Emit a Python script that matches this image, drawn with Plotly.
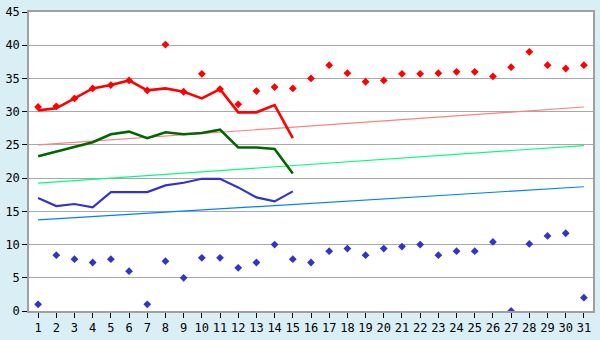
import plotly.graph_objects as go

days = list(range(1, 32))

red_points = [30.7, 30.8, 32.0, 33.5, 34.0, 34.7, 33.2, 40.1, 33.0, 35.7,
              33.4, 31.1, 33.1, 33.7, 33.5, 35.0, 37.0, 35.8, 34.5, 34.7,
              35.7, 35.7, 35.8, 36.0, 36.0, 35.3, 36.7, 39.0, 37.0, 36.5, 37.0]
blue_points = [1.0, 8.4, 7.8, 7.3, 7.8, 6.0, 1.0, 7.5, 5.0, 8.0,
               8.0, 6.5, 7.3, 10.0, 7.8, 7.3, 9.0, 9.4, 8.4, 9.4,
               9.7, 10.0, 8.4, 9.0, 9.0, 10.4, 0.0, 10.1, 11.3, 11.7, 2.0]

line_days = list(range(1, 16))
red_line = [30.2, 30.5, 32.0, 33.5, 34.0, 34.7, 33.2, 33.5, 33.0, 32.0,
            33.4, 29.9, 29.9, 31.0, 26.0]
green_line = [23.3, 24.0, 24.8, 25.4, 26.6, 27.0, 26.0, 26.9, 26.6, 26.8,
              27.3, 24.6, 24.6, 24.4, 20.7]
blue_line = [17.0, 15.8, 16.1, 15.6, 17.9, 17.9, 17.9, 18.9, 19.3, 19.9,
             19.9, 18.6, 17.1, 16.5, 18.0]

trend_days = [1, 31]
red_trend = [25.0, 30.7]
green_trend = [19.25, 24.9]
blue_trend = [13.7, 18.7]

fig = go.Figure()

fig.add_trace(go.Scatter(x=trend_days, y=red_trend, mode="lines",
                         line=dict(color="#FF8080", width=1.2)))
fig.add_trace(go.Scatter(x=trend_days, y=green_trend, mode="lines",
                         line=dict(color="#00FF80", width=1.2)))
fig.add_trace(go.Scatter(x=trend_days, y=blue_trend, mode="lines",
                         line=dict(color="#0080FF", width=1.2)))

fig.add_trace(go.Scatter(x=line_days, y=red_line, mode="lines",
                         line=dict(color="#FF0000", width=2.6)))
fig.add_trace(go.Scatter(x=line_days, y=green_line, mode="lines",
                         line=dict(color="#006600", width=2.6)))
fig.add_trace(go.Scatter(x=line_days, y=blue_line, mode="lines",
                         line=dict(color="#3333CC", width=2.2)))

fig.add_trace(go.Scatter(x=days, y=red_points, mode="markers",
                         marker=dict(symbol="diamond", size=6, color="#FF0000")))
fig.add_trace(go.Scatter(x=days, y=blue_points, mode="markers",
                         marker=dict(symbol="diamond", size=6, color="#3333CC")))

axis_font = dict(family="DejaVu Sans Mono", size=12, color="#000000")

fig.update_layout(
    width=600, height=340,
    margin=dict(l=21, r=5, t=5, b=20),
    paper_bgcolor="#DAEFF5",
    plot_bgcolor="#FFFFFF",
    showlegend=False,
    xaxis=dict(range=[0.5, 31.5], tickmode="array", tickvals=days,
               ticktext=[str(d) for d in days],
               showgrid=False, zeroline=False,
               showline=True, linecolor="#A0A0A0", linewidth=1.5, mirror=True,
               ticks="outside", ticklen=5, tickcolor="#000000",
               tickfont=axis_font),
    yaxis=dict(range=[0, 45], dtick=5, showgrid=True, gridcolor="#A8A8A8",
               gridwidth=1, zeroline=False,
               showline=True, linecolor="#A0A0A0", linewidth=1.5, mirror=True,
               ticks="outside", ticklen=5, tickcolor="#000000",
               tickfont=axis_font),
)

fig.write_html("out.html")
